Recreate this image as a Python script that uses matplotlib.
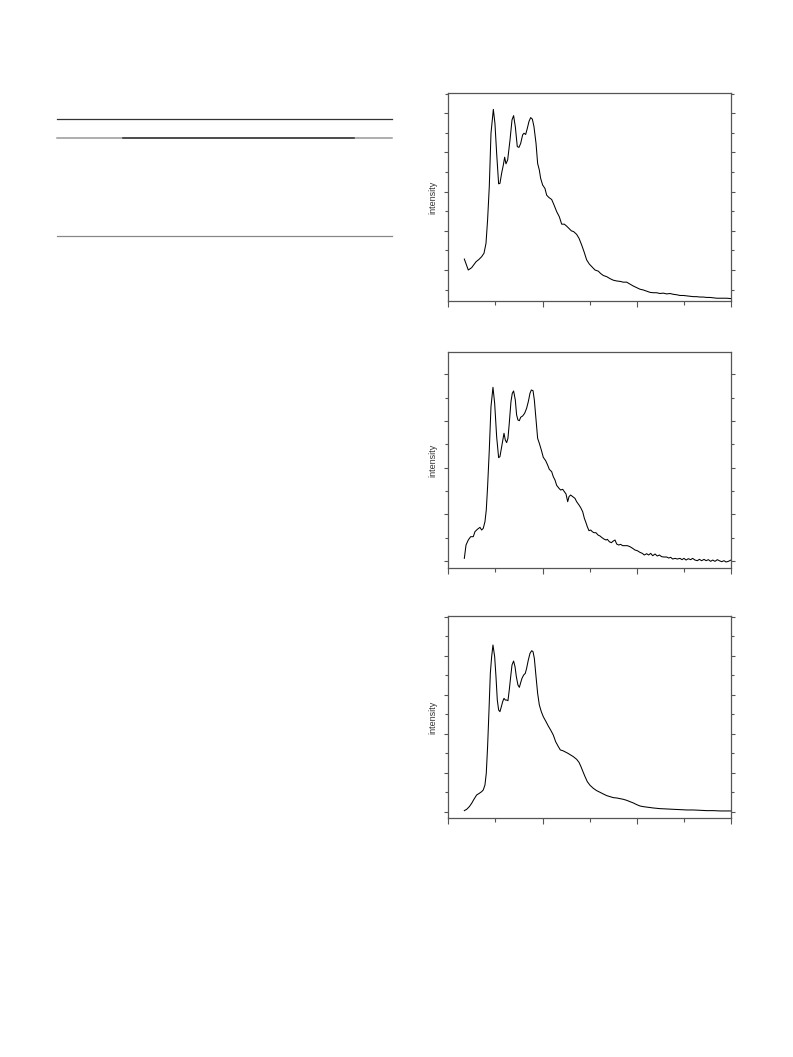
import matplotlib
matplotlib.use("Agg")
import matplotlib.pyplot as plt
from matplotlib.ticker import MultipleLocator, NullFormatter
from matplotlib.lines import Line2D

plt.rcParams['font.family'] = ['Liberation Sans', 'DejaVu Sans']

# ---- Spectrum 1 (top panel) ----
x1 = [17.0, 21.2, 24.8, 29.4, 32.5, 35.4, 37.9, 40.0, 41.7, 43.5, 45.3, 47.8, 49.5, 51.3,
      53.4, 54.8, 56.6, 58.4, 59.8, 61.2, 63.0, 65.5, 67.6, 69.3, 71.1, 73.2, 75.0, 76.8,
      78.9, 80.3, 82.1, 83.9, 85.6, 87.4, 89.2, 90.9, 93.1, 94.8, 96.6, 98.0, 100.1, 102.6,
      104.4, 106.8, 109.7, 112.2, 115.0, 117.8, 120.3, 123.1, 125.6, 128.1, 130.6, 133.0,
      136.2, 138.7, 141.5, 144.0, 146.8, 149.7, 152.1, 155.7, 159.2, 161.7, 164.5, 168.1,
      171.6, 175.1, 178.7, 182.2, 185.7, 189.3, 192.8, 196.4, 199.9, 203.4, 207.0, 210.5,
      214.0, 217.6, 221.0, 224.7, 228.0, 231.7, 235.3, 238.8, 242.0, 245.9, 249.5, 253.0,
      256.5, 260.0, 263.5, 267.1, 270.5, 274.2, 277.8, 281.3, 285.0, 288.3, 292.0, 295.4, 300.0]
y1 = [128, 100, 106, 121, 127, 134, 143, 168, 228, 313, 449, 510, 474, 398,
      320, 321, 347, 368, 388, 371, 381, 432, 483, 494, 466, 415, 413, 423,
      445, 449, 446, 462, 479, 489, 485, 466, 423, 372, 355, 334, 317, 308,
      291, 285, 280, 266, 249, 236, 217, 217, 212, 206, 200, 198,
      191, 181, 164, 147, 126, 115, 109, 100, 97, 91, 86, 83,
      78, 74, 72, 71, 69, 69, 64, 59, 55, 51, 49, 46,
      43, 42, 42, 40, 41, 39, 40, 38, 37, 35, 35, 34,
      33, 32, 32, 31, 31, 30, 30, 29, 28, 28, 28, 28, 27]

# ---- Spectrum 2 (middle panel) ----
x2 = [17.0, 18.8, 21.2, 23.7, 26.5, 28.3, 30.8, 33.6, 35.4, 37.1, 38.9, 40.3, 41.7, 43.5,
      45.3, 47.4, 49.2, 51.3, 53.4, 54.8, 56.6, 57.7, 59.1, 60.5, 61.9, 63.3, 64.7, 66.5,
      67.9, 69.3, 71.1, 72.5, 73.9, 75.4, 76.8, 78.9, 81.0, 83.1, 84.9, 86.7, 88.1, 89.9,
      91.3, 93.1, 94.8, 96.6, 98.7, 100.8, 103.3, 105.4, 107.2, 109.7, 111.4, 113.2, 115.0,
      117.5, 119.2, 121.4, 123.1, 124.9, 126.7, 128.1, 129.8, 132.0, 134.4, 136.2, 138.7,
      140.5, 142.6, 144.4, 146.1, 147.5, 149.3, 151.1, 152.8, 154.6, 156.7, 158.9, 161.0,
      162.7, 165.2, 167.4, 168.8, 170.9, 173.0, 175.1, 176.9, 178.7, 180.8, 182.9, 185.0,
      187.5, 190.0, 192.8, 195.7, 198.1, 200.6, 203.4, 205.9, 208.0, 210.5, 212.6, 214.8,
      216.9, 219.4, 221.8, 224.0, 226.4, 228.9, 231.7, 233.9, 236.0, 238.1, 240.6, 243.1,
      245.9, 248.0, 250.1, 252.3, 254.7, 257.2, 259.3, 261.8, 264.3, 266.4, 268.9, 271.4,
      273.5, 276.0, 278.4, 280.6, 283.0, 285.5, 287.6, 290.1, 292.6, 294.7, 297.2, 300.0]
y2 = [5.7, 34.3, 45.0, 52.1, 52.1, 62.9, 67.9, 72.1, 66.4, 70.0, 84.3, 109.3, 159.3, 237.9,
      330.7, 372.1, 337.9, 266.4, 221.4, 223.6, 245.0, 259.3, 273.6, 259.3, 253.6, 262.9,
      295.0, 341.4, 359.3, 364.3, 345.0, 312.9, 302.1, 300.7, 307.9, 310.7, 316.4, 327.1,
      341.4, 359.3, 366.4, 365.0, 345.0, 302.1, 262.9, 252.1, 237.9, 222.1, 215.0, 205.7,
      196.4, 191.4, 180.7, 173.6, 162.1, 155.7, 152.1, 153.6, 148.6, 143.6, 127.1, 137.9,
      141.4, 137.9, 134.3, 127.1, 120.0, 114.3, 105.7, 91.4, 82.1, 73.6, 65.0, 66.4, 62.9,
      60.7, 60.7, 55.7, 53.6, 50.7, 47.1, 45.0, 46.4, 41.4, 39.3, 42.9, 45.0, 36.4, 34.3,
      35.7, 32.9, 32.9, 32.9, 30.7, 27.1, 23.6, 22.1, 18.6, 16.4, 12.9, 15.7, 12.9, 16.4,
      11.4, 15.0, 10.7, 12.9, 9.3, 8.6, 8.6, 6.4, 7.9, 4.3, 5.7, 4.3, 5.7, 2.9, 5.7, 2.1,
      5.0, 2.9, 5.7, 2.1, 0.7, 3.6, 0.7, 3.6, 0.7, 2.9, -0.7, 2.1, -0.7, 2.9, 0.7, -1.4,
      0.7, -2.1, -0.7, 2.1]

# ---- Spectrum 3 (bottom panel) ----
x3 = [17.0, 19.5, 22.3, 24.8, 27.2, 30.1, 32.9, 35.4, 37.1, 38.9, 40.3, 41.7, 43.2, 44.6,
      46.0, 47.4, 49.2, 50.6, 52.0, 53.4, 54.8, 56.3, 57.7, 59.1, 60.5, 61.9, 63.3, 64.7,
      66.2, 67.6, 69.3, 70.8, 72.2, 73.9, 75.4, 76.8, 78.2, 80.0, 81.7, 83.1, 84.9, 86.7,
      88.5, 89.9, 91.3, 93.1, 94.8, 96.6, 98.7, 100.8, 103.7, 106.1, 108.6, 111.4, 113.9,
      116.4, 118.9, 121.4, 124.2, 127.0, 129.8, 132.7, 136.2, 138.7, 140.8, 142.9, 145.1,
      147.5, 150.4, 153.9, 157.4, 161.0, 164.5, 168.1, 171.6, 175.1, 178.7, 182.2, 185.7,
      189.3, 192.8, 196.4, 199.9, 203.4, 207.0, 212.3, 217.6, 224.7, 231.7, 238.8, 245.9,
      253.0, 260.0, 267.1, 274.2, 281.3, 288.3, 295.4, 300.0]
y3 = [3.4, 6.8, 13.6, 22.2, 32.4, 43.5, 47.7, 52.0, 56.3, 69.1, 98.9, 167.1, 260.9, 354.6,
      397.3, 427.1, 397.3, 346.1, 286.4, 260.9, 256.6, 269.4, 282.2, 290.7, 286.4, 286.4,
      284.7, 312.0, 346.1, 376.0, 386.2, 371.7, 346.1, 324.8, 318.8, 330.8, 341.9, 350.4,
      354.6, 367.4, 388.7, 405.8, 412.6, 410.1, 393.0, 346.1, 303.5, 273.7, 256.6, 243.8,
      231.0, 219.9, 209.7, 196.9, 179.9, 168.8, 158.6, 156.9, 153.5, 150.0, 145.8, 141.5,
      134.7, 127.0, 115.9, 103.2, 90.4, 77.6, 68.2, 60.5, 54.6, 50.3, 46.0, 41.8, 39.2,
      36.7, 35.8, 34.1, 32.4, 29.8, 26.4, 23.0, 18.8, 15.3, 13.6, 11.9, 10.2, 8.5, 7.7,
      6.8, 6.0, 5.1, 5.1, 4.3, 3.4, 3.4, 2.6, 2.6, 2.6]

series = [(x1, y1), (x2, y2), (x3, y3)]
ylims = [(20.9, 551.0), (-14.3, 447.1), (-16.2, 502.1)]
W, H = 793, 1057
boxes = [(448.3, 731.0, 93.3, 301.0), (448.3, 731.0, 352.3, 567.7), (448.3, 731.0, 615.7, 818.3)]

fig = plt.figure(figsize=(W / 100, H / 100), dpi=100)

spine_col = '#555555'
for (xs, ys), yl, (l, r, t, b) in zip(series, ylims, boxes):
    ax = fig.add_axes([l / W, 1 - b / H, (r - l) / W, (b - t) / H])
    ax.plot(xs, ys, color='black', lw=0.75)
    ax.set_xlim(0, 300)
    ax.set_ylim(*yl)
    ax.xaxis.set_major_locator(MultipleLocator(100))
    ax.xaxis.set_minor_locator(MultipleLocator(50))
    ax.yaxis.set_major_locator(MultipleLocator(100))
    ax.yaxis.set_minor_locator(MultipleLocator(50))
    ax.xaxis.set_major_formatter(NullFormatter())
    ax.yaxis.set_major_formatter(NullFormatter())
    for s in ax.spines.values():
        s.set_color(spine_col)
        s.set_linewidth(0.9)
    ax.tick_params(axis='both', which='both', direction='out', color=spine_col, width=0.8,
                   top=False, right=True)
    ax.tick_params(axis='x', which='major', length=4)
    ax.tick_params(axis='x', which='minor', length=3)
    ax.tick_params(axis='y', which='major', length=3)
    ax.tick_params(axis='y', which='minor', length=2)
    ax.tick_params(axis='y', which='both', right=True, direction='out')
    ax.set_ylabel('intensity', fontsize=6.5, color='#333333', labelpad=1.5)

# ---- table rules on the left ----
def hline(y, x0, x1_, color, lw):
    fig.add_artist(Line2D([x0 / W, x1_ / W], [1 - y / H, 1 - y / H], color=color, lw=lw,
                          transform=fig.transFigure))

hline(119.3, 57.3, 391.7, '#333333', 0.9)
hline(137.7, 57.3, 391.7, '#999999', 1.1)
hline(137.7, 123.3, 354.3, '#333333', 1.1)
hline(236.0, 57.3, 391.7, '#888888', 0.9)

fig.savefig('out.png', dpi=100)
